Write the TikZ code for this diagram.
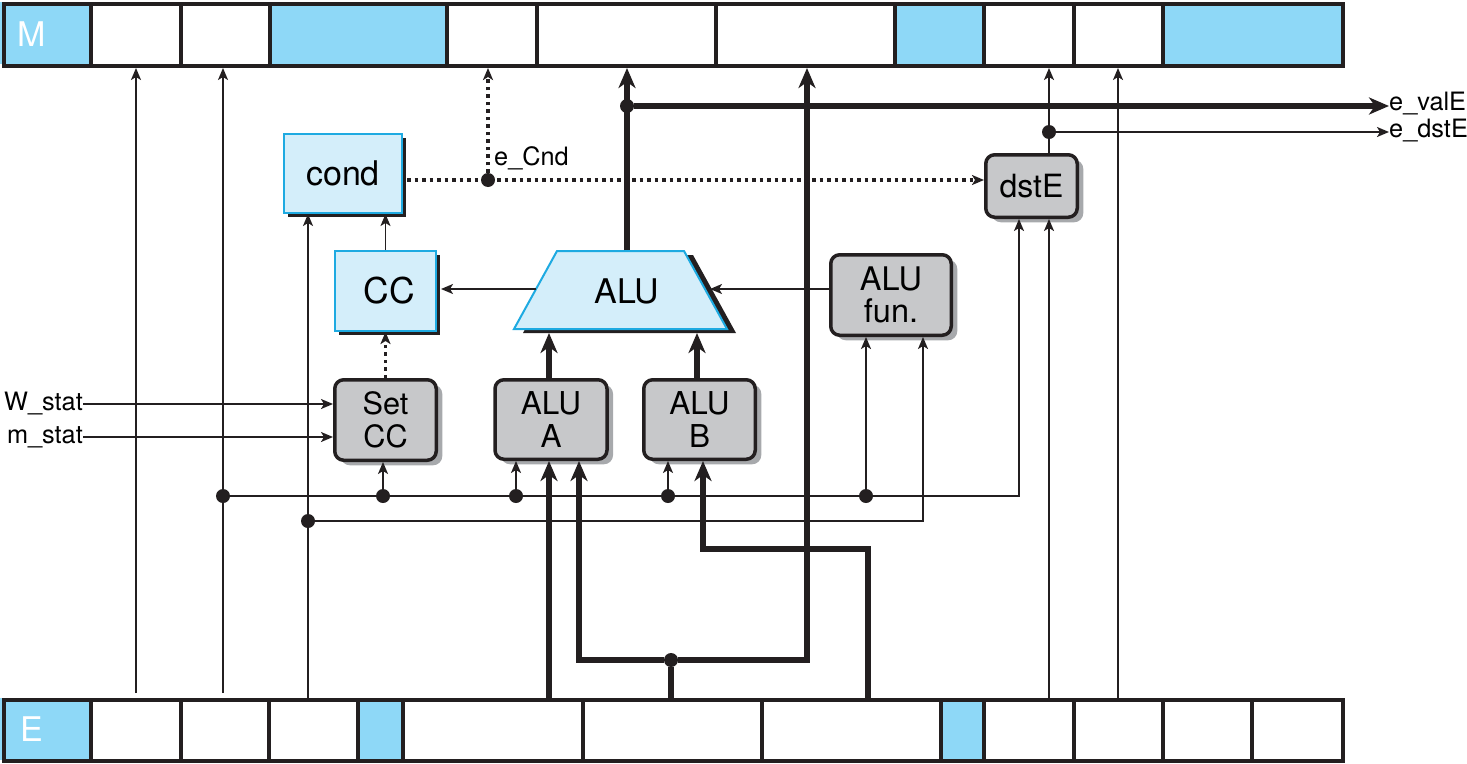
\documentclass[tikz,border=0pt]{standalone}
\usepackage{fontspec}
\setmainfont{TeX Gyre Heros}
\usetikzlibrary{arrows.meta,shadows,calc}
\definecolor{ink}{RGB}{35,31,32}
\definecolor{cellblue}{RGB}{142,216,247}
\definecolor{boxblue}{RGB}{212,238,250}
\definecolor{edgeblue}{RGB}{30,170,225}
\definecolor{boxgray}{RGB}{199,200,202}
\definecolor{shadowgray}{RGB}{167,169,172}
\tikzset{
  wire/.style={draw=ink,line width=1.7pt},
  bus/.style={draw=ink,line width=6pt},
  ctrl/.style={draw=ink,line width=3.5pt,dash pattern=on 3.5pt off 4pt},
  arr/.style={-{Stealth[length=12pt,width=10pt,inset=3pt]}},
  barr/.style={-{Stealth[length=20pt,width=17pt,inset=6pt]}},
  dot/.style={circle,fill=ink,inner sep=0pt,minimum size=14pt},
  regbox/.style={draw=ink,line width=4pt,inner sep=0pt,anchor=north west},
  divider/.style={draw=ink,line width=3.5pt},
  regname/.style={text=white,font=\fontsize{34}{38}\selectfont},
  bluebox/.style={draw=edgeblue,fill=boxblue,line width=2pt,inner sep=0pt,
    drop shadow={shadow xshift=4pt,shadow yshift=-4pt,fill=ink,opacity=1}},
  graybox/.style={draw=ink,fill=boxgray,line width=3.5pt,rounded corners=9pt,inner sep=0pt,align=center,
    drop shadow={shadow xshift=6pt,shadow yshift=-5pt,fill=shadowgray,opacity=1},
    font=\fontsize{31.5}{33}\selectfont},
  sig/.style={font=\fontsize{25.3}{28}\selectfont,inner sep=0pt}
}
\begin{document}
\begin{tikzpicture}[x=1pt,y=-1pt]
\useasboundingbox (0,0) rectangle (1467,763);
% ---------- M register ----------
\fill[cellblue] (0,2) rectangle (91,64);
\fill[cellblue] (270,2) rectangle (447,64);
\fill[cellblue] (895,2) rectangle (984,64);
\fill[cellblue] (1163,2) rectangle (1343,64);
\foreach \x in {91,181,270,447,537,716,895,984,1074,1163}
  \draw[divider] (\x,2) -- (\x,64);
\node[regbox,minimum width=1339pt,minimum height=62pt] (Mreg) at (2,2) {};
\node[regname] (Mlbl) at (32,34) {M};
% ---------- E register ----------
\fill[cellblue] (0,698) rectangle (91,760);
\fill[cellblue] (358,698) rectangle (403,760);
\fill[cellblue] (941,698) rectangle (984,760);
\foreach \x in {91,181,269,358,403,583,762,941,984,1074,1163,1252}
  \draw[divider] (\x,698) -- (\x,760);
\node[regbox,minimum width=1339pt,minimum height=61pt] (Ereg) at (2,698) {};
\node[regname] (Elbl) at (32,729) {E};
% ---------- ALU trapezoid ----------
\fill[ink,shift={(9,4)}] (557,251) -- (684,251) -- (727,329) -- (514,329) -- cycle;
\filldraw[fill=boxblue,draw=edgeblue,line width=2pt] (557,251) -- (684,251) -- (727,329) -- (514,329) -- cycle;
\node[font=\fontsize{34}{38}\selectfont] (alu) at (627,291) {ALU};
\coordinate (alutop) at (627,250);
\coordinate (alubot) at (620,333);
\coordinate (aluL) at (536,289);
\coordinate (aluR) at (705,289);
% ---------- boxes ----------
\node[bluebox,minimum width=118pt,minimum height=79pt,font=\fontsize{34}{38}\selectfont] (cond) at (343,173.5) {cond};
\node[bluebox,minimum width=101pt,minimum height=80pt,font=\fontsize{35.5}{40}\selectfont] (cc) at (385.5,291) {\hspace*{8pt}CC};
\node[graybox,minimum width=101.5pt,minimum height=80.5pt,font=\fontsize{30.7}{33}\selectfont] (setcc) at (385.5,420) {Set\\CC};
\node[graybox,minimum width=112pt,minimum height=79.5pt] (alua) at (551,419.5) {ALU\\A};
\node[graybox,minimum width=111.5pt,minimum height=79.5pt] (alub) at (699.5,419.5) {ALU\\B};
\node[graybox,minimum width=120.5pt,minimum height=80.5pt,font=\fontsize{32.5}{32}\selectfont] (alufun) at (891,295) {ALU\\fun.};
\node[graybox,minimum width=91.5pt,minimum height=62.5pt,font=\fontsize{32}{34}\selectfont] (dste) at (1031.5,186) {dstE};
% ---------- labels ----------
\node[sig,anchor=east] (lw) at (83,404) {W\_stat};
\node[sig,anchor=east] (lm) at (83,437) {m\_stat};
\node[sig,anchor=west] (lvalE) at (1389,104) {e\_valE};
\node[sig,anchor=west] (ldstE) at (1389,131) {e\_dstE};
\node[sig,anchor=west] (lcnd) at (494,158) {e\_Cnd};
% ---------- thin wires E -> M ----------
\draw[wire,arr] ([yshift=5pt]136,0 |- Ereg.north) -- (136,0 |- Mreg.south);
\draw[wire,arr] ([yshift=5pt]223,0 |- Ereg.north) -- (223,0 |- Mreg.south);
\draw[wire,arr] (1118,0 |- Ereg.north) -- (1118,0 |- Mreg.south);
% ---------- control bus y=496 ----------
\node[dot] (j1) at (223,496) {};
\draw[wire,arr] (j1) -| (1019,0 |- dste.south);
\node[dot] (k1) at (383,496) {};
\node[dot] (k2) at (516,496) {};
\node[dot] (k3) at (668,496) {};
\node[dot] (k4) at (866,496) {};
\draw[wire,arr] (k1) -- (k1 |- setcc.south);
\draw[wire,arr] (k2) -- (k2 |- alua.south);
\draw[wire,arr] (k3) -- (k3 |- alub.south);
\draw[wire,arr] (k4) -- (k4 |- alufun.south);
% ---------- y=521 ----------
\draw[wire,arr] (308,0 |- Ereg.north) -- (308,0 |- cond.south);
\node[dot] (j2) at (308,521) {};
\draw[wire,arr] (j2) -| (923,0 |- alufun.south);
% ---------- data buses ----------
\draw[bus,barr] (549,0 |- Ereg.north) -- (549,0 |- alua.south);
\node[dot] (j3) at (671,660) {};
\draw[bus] (j3) -- (j3 |- Ereg.north);
\draw[bus,barr] (j3) -| (579,0 |- alua.south);
\draw[bus,barr] (j3) -| (807,0 |- Mreg.south);
\coordinate (bk) at (703,549);
\draw[bus,barr] (868,0 |- Ereg.north) |- (bk) -- (bk |- alub.south);
\draw[bus,barr] (549,0 |- alua.north) -- (549,0 |- alubot);
\draw[bus,barr] (697,0 |- alub.north) -- (697,0 |- alubot);
\draw[bus,barr] (alutop) -- (alutop |- Mreg.south);
\node[dot] (j4) at (627,106) {};
\draw[bus,barr] (j4) -- (lvalE.west |- j4);
% ---------- ALU side connections ----------
\draw[wire,arr] (aluL) -- ([xshift=4pt]aluL -| cc.east);
\draw[wire,arr] (alufun.west |- aluR) -- ([xshift=5pt]aluR);
\draw[ctrl,arr] (setcc.north) -- (cc.south);
\draw[wire,arr] (cc.north) -- (cc.north |- cond.south);
% ---------- condition ----------
\draw[ctrl,arr] ([xshift=4pt]cond.east |- 0,180) -- (dste.west |- 0,180);
\node[dot] (j5) at (488,180) {};
\draw[ctrl,arr] (j5) -- (j5 |- Mreg.south);
% ---------- dstE ----------
\draw[wire,arr] (1049,0 |- dste.north) -- (1049,0 |- Mreg.south);
\node[dot] (j6) at (1049,132) {};
\draw[wire,arr] (j6) -- (ldstE.west |- j6);
\draw[wire,arr] (1049,0 |- Ereg.north) -- (1049,0 |- dste.south);
% ---------- status inputs ----------
\draw[wire,arr] (lw.east) -- (setcc.west |- lw.east);
\draw[wire,arr] (lm.east) -- (setcc.west |- lm.east);
\end{tikzpicture}
\end{document}
